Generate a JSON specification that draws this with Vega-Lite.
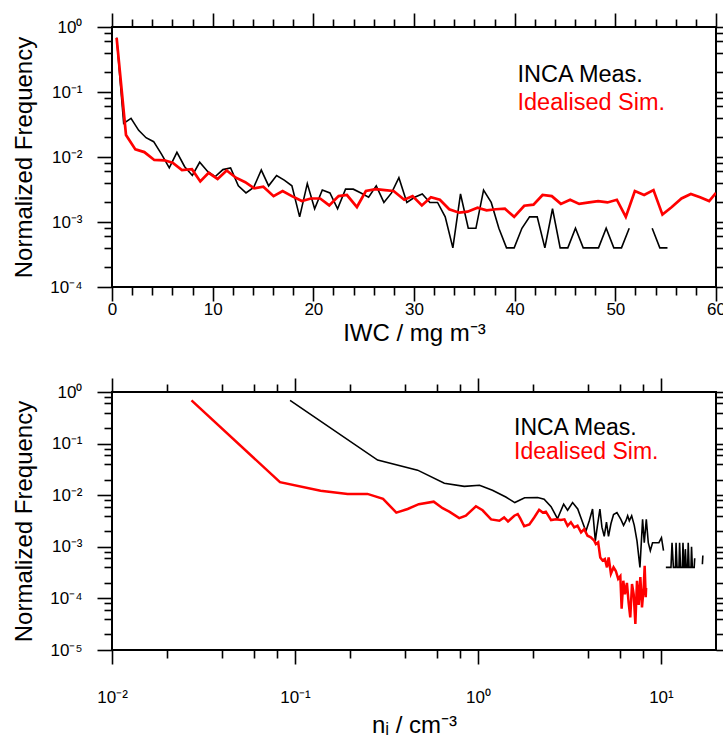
{
  "$schema": "https://vega.github.io/schema/vega-lite/v6.json",
  "background": "white",
  "padding": {"left": 11, "top": 11, "right": 0, "bottom": 0},
  "config": {
    "view": {"stroke": "black", "strokeWidth": 2},
    "font": "Liberation Sans",
    "axis": {
      "domain": false, "grid": false, "tickColor": "black", "tickWidth": 1.6,
      "labelColor": "black", "titleColor": "black", "labelFontSize": 17, "titleFontSize": 24,
      "titleFontWeight": "normal", "labelPadding": 15, "titlePadding": 13,
      "labelFont": "Liberation Sans", "titleFont": "Liberation Sans", "labelOverlap": false, "labelFlush": false
    },
    "legend": {"labelFont": "Liberation Sans"}
  },
  "datasets": {
    "topBlack": [
      {"x":0.46,"y":0.685},{"x":1.16,"y":0.033},{"x":1.89,"y":0.0394},{"x":2.65,"y":0.0257},{"x":3.38,"y":0.0198},
      {"x":4.14,"y":0.0172},{"x":4.93,"y":0.011},{"x":5.69,"y":0.0068},{"x":6.45,"y":0.0118},{"x":7.22,"y":0.0071},
      {"x":7.98,"y":0.0052},{"x":8.71,"y":0.0083},{"x":9.5,"y":0.006},{"x":10.26,"y":0.005},{"x":11.02,"y":0.0064},
      {"x":11.78,"y":0.0068},{"x":12.55,"y":0.0036},{"x":13.31,"y":0.0028},{"x":14.07,"y":0.0034},{"x":14.83,"y":0.0063},
      {"x":15.56,"y":0.0036},{"x":16.35,"y":0.0052},{"x":17.11,"y":0.0044},{"x":17.87,"y":0.0036},{"x":18.64,"y":0.0012},
      {"x":19.4,"y":0.0039},{"x":20.13,"y":0.0016},{"x":20.89,"y":0.0031},{"x":21.65,"y":0.0028},{"x":22.41,"y":0.0016},
      {"x":23.2,"y":0.0032},{"x":23.97,"y":0.0032},{"x":24.73,"y":0.0028},{"x":25.49,"y":0.0024},{"x":26.25,"y":0.0036},
      {"x":27.01,"y":0.002},{"x":27.77,"y":0.0028},{"x":28.5,"y":0.0048},{"x":29.29,"y":0.002},{"x":30.06,"y":0.0024},
      {"x":30.82,"y":0.0027},{"x":31.58,"y":0.002},{"x":32.34,"y":0.002},{"x":33.1,"y":0.0012},{"x":33.86,"y":0.0004},
      {"x":34.62,"y":0.0027},{"x":35.39,"y":0.0008},{"x":36.15,"y":0.0008},{"x":36.91,"y":0.0031},{"x":37.67,"y":0.002},
      {"x":38.43,"y":0.0008},{"x":39.19,"y":0.0004},{"x":39.95,"y":0.0004},{"x":40.72,"y":0.0008},{"x":41.48,"y":0.0012},
      {"x":42.24,"y":0.0012},{"x":43.0,"y":0.0004},{"x":43.76,"y":0.0016},{"x":44.52,"y":0.0004},{"x":45.28,"y":0.0004},
      {"x":46.04,"y":0.0008},{"x":46.81,"y":0.0004},{"x":47.57,"y":0.0004},{"x":48.33,"y":0.0004},{"x":49.09,"y":0.0008},
      {"x":49.85,"y":0.0004},{"x":50.61,"y":0.0004},{"x":51.38,"y":0.0008},{"x":52.14,"y":null},{"x":52.9,"y":null},
      {"x":53.66,"y":0.0008},{"x":54.42,"y":0.0004},{"x":55.18,"y":0.0004}
    ],
    "topRed": [
      {"x":0.46,"y":0.68},{"x":1.39,"y":0.0218},{"x":2.32,"y":0.0131},{"x":3.21,"y":0.0119},{"x":4.2,"y":0.009},
      {"x":5.2,"y":0.0089},{"x":6.02,"y":0.0082},{"x":6.95,"y":0.0063},{"x":7.94,"y":0.0065},{"x":8.77,"y":0.0042},
      {"x":9.6,"y":0.0057},{"x":10.49,"y":0.0046},{"x":11.39,"y":0.0062},{"x":12.31,"y":0.0048},{"x":13.24,"y":0.0041},
      {"x":14.13,"y":0.0033},{"x":15.03,"y":0.0035},{"x":16.05,"y":0.0025},{"x":16.95,"y":0.003},{"x":17.87,"y":0.0025},
      {"x":18.86,"y":0.0021},{"x":19.76,"y":0.0023},{"x":20.68,"y":0.0023},{"x":21.58,"y":0.0018},{"x":22.51,"y":0.0025},
      {"x":23.34,"y":0.0026},{"x":24.33,"y":0.0017},{"x":25.22,"y":0.003},{"x":26.22,"y":0.0032},{"x":27.11,"y":0.0031},
      {"x":27.97,"y":0.003},{"x":29.03,"y":0.0022},{"x":29.86,"y":0.0025},{"x":30.78,"y":0.0018},{"x":31.68,"y":0.0024},
      {"x":32.57,"y":0.0022},{"x":33.5,"y":0.00157},{"x":34.49,"y":0.00139},{"x":35.32,"y":0.00144},{"x":36.31,"y":0.00166},
      {"x":37.21,"y":0.00151},{"x":38.13,"y":0.00157},{"x":39.03,"y":0.0016},{"x":39.95,"y":0.0012},{"x":40.95,"y":0.00178},
      {"x":41.87,"y":0.00185},{"x":42.77,"y":0.0026},{"x":43.69,"y":0.0025},{"x":44.59,"y":0.0019},{"x":45.51,"y":0.0022},
      {"x":46.41,"y":0.0019},{"x":47.4,"y":0.002},{"x":48.29,"y":0.0021},{"x":49.22,"y":0.002},{"x":50.15,"y":0.0022},
      {"x":51.04,"y":0.0012},{"x":51.94,"y":0.003},{"x":52.86,"y":0.0026},{"x":53.79,"y":0.0031},{"x":54.68,"y":0.0013},
      {"x":55.61,"y":0.0017},{"x":56.57,"y":0.0023},{"x":57.5,"y":0.0027},{"x":58.42,"y":0.0024},{"x":59.32,"y":0.0021},
      {"x":60.0,"y":0.0028}
    ],
    "botBlack": [
      {"x":0.094,"y":0.69},{"x":0.283,"y":0.048},{"x":0.468,"y":0.0306},{"x":0.655,"y":0.017},{"x":0.842,"y":0.0148},
      {"x":1.02,"y":0.0156},{"x":1.2,"y":0.0125},{"x":1.42,"y":0.0092},{"x":1.59,"y":0.0072},{"x":1.8,"y":0.0089},
      {"x":2.12,"y":0.009},{"x":2.3,"y":0.0084},{"x":2.51,"y":0.006},{"x":2.72,"y":0.0035},{"x":2.94,"y":0.0067},
      {"x":3.09,"y":0.0051},{"x":3.29,"y":0.0072},{"x":3.51,"y":0.0054},{"x":3.73,"y":0.003},{"x":3.89,"y":0.002},
      {"x":4.06,"y":0.0032},{"x":4.23,"y":0.0054},{"x":4.38,"y":0.0013},{"x":4.5,"y":0.0026},{"x":4.64,"y":0.0054},
      {"x":4.76,"y":0.0024},{"x":4.9,"y":0.0016},{"x":5.04,"y":0.003},{"x":5.17,"y":0.0016},{"x":5.33,"y":0.0028},
      {"x":5.51,"y":0.0042},{"x":5.75,"y":0.0046},{"x":6.04,"y":0.0034},{"x":6.25,"y":0.0026},{"x":6.44,"y":0.0032},
      {"x":6.58,"y":0.004},{"x":6.72,"y":0.0032},{"x":6.92,"y":0.004},{"x":7.15,"y":0.0026},{"x":7.4,"y":0.0013},
      {"x":7.68,"y":0.0004},{"x":7.94,"y":0.0034},{"x":8.11,"y":0.0012},{"x":8.32,"y":0.0034},{"x":8.53,"y":0.0012},
      {"x":8.75,"y":0.00084},{"x":9.0,"y":0.0012},{"x":9.39,"y":0.0012},{"x":9.75,"y":0.0012},{"x":10.07,"y":0.0015},
      {"x":10.33,"y":0.00084},{"x":10.48,"y":null},{"x":10.64,"y":0.0004},{"x":11.35,"y":0.0004},{"x":11.5,"y":0.0012},
      {"x":11.7,"y":0.0004},{"x":12.0,"y":0.0004},{"x":12.1,"y":0.0012},{"x":12.25,"y":0.0004},{"x":12.55,"y":0.0004},
      {"x":12.65,"y":0.0012},{"x":12.8,"y":0.0004},{"x":13.1,"y":0.0004},{"x":13.2,"y":0.0012},{"x":13.35,"y":0.0004},
      {"x":13.5,"y":0.0004},{"x":13.6,"y":0.0009},{"x":13.75,"y":0.0004},{"x":14.0,"y":0.0004},{"x":14.1,"y":0.0012},
      {"x":14.25,"y":0.0004},{"x":14.6,"y":0.0004},{"x":14.7,"y":0.001},{"x":14.85,"y":0.0004},{"x":15.2,"y":0.0004},
      {"x":15.3,"y":0.0006},{"x":15.4,"y":null},{"x":16.85,"y":0.00046},{"x":16.95,"y":0.00068}
    ],
    "botRed": [
      {"x":0.0272,"y":0.69},{"x":0.0828,"y":0.0179},{"x":0.138,"y":0.0122},{"x":0.194,"y":0.0106},{"x":0.249,"y":0.0106},
      {"x":0.303,"y":0.0085},{"x":0.358,"y":0.0046},{"x":0.413,"y":0.0054},{"x":0.475,"y":0.0067},{"x":0.573,"y":0.0075},
      {"x":0.641,"y":0.0056},{"x":0.697,"y":0.0048},{"x":0.79,"y":0.0036},{"x":0.859,"y":0.004},{"x":0.975,"y":0.0061},
      {"x":1.06,"y":0.0051},{"x":1.18,"y":0.0034},{"x":1.31,"y":0.0032},{"x":1.39,"y":0.0037},{"x":1.46,"y":0.0031},
      {"x":1.58,"y":0.004},{"x":1.65,"y":0.0043},{"x":1.7,"y":0.0036},{"x":1.79,"y":0.0025},{"x":1.91,"y":0.0027},
      {"x":2.03,"y":0.0037},{"x":2.16,"y":0.0052},{"x":2.26,"y":0.0046},{"x":2.35,"y":0.0048},{"x":2.51,"y":0.0033},
      {"x":2.67,"y":0.0034},{"x":2.84,"y":0.0033},{"x":2.97,"y":0.0034},{"x":3.09,"y":0.00256},{"x":3.22,"y":0.003},
      {"x":3.36,"y":0.00238},{"x":3.5,"y":0.00256},{"x":3.66,"y":0.0019},{"x":3.81,"y":0.0022},{"x":3.97,"y":0.00164},
      {"x":4.14,"y":0.00153},{"x":4.32,"y":0.00131},{"x":4.41,"y":0.00113},{"x":4.54,"y":0.00122},{"x":4.66,"y":0.00062},
      {"x":4.8,"y":0.00054},{"x":4.94,"y":0.00058},{"x":5.07,"y":0.0004},{"x":5.18,"y":0.00062},{"x":5.33,"y":0.0003},
      {"x":5.51,"y":0.0004},{"x":5.67,"y":0.00034},{"x":5.84,"y":0.00024},{"x":6.0,"y":0.00027},{"x":6.1,"y":0.000063},
      {"x":6.23,"y":0.00022},{"x":6.36,"y":0.00012},{"x":6.52,"y":0.0002},{"x":6.66,"y":0.000083},{"x":6.8,"y":0.000043},
      {"x":6.95,"y":0.00019},{"x":7.1,"y":0.00012},{"x":7.25,"y":0.000032},{"x":7.4,"y":0.00022},{"x":7.56,"y":0.000075},
      {"x":7.72,"y":0.00026},{"x":7.88,"y":0.000067},{"x":8.05,"y":0.00016},{"x":8.15,"y":0.00043},{"x":8.26,"y":0.000105},
      {"x":8.3,"y":0.00016}
    ]
  },
  "bounds": "flush",
  "spacing": 105,
  "resolve": {"scale": {"color": "independent"}, "legend": {"color": "independent"}},
  "vconcat": [
    {
      "width": 604, "height": 260,
      "resolve": {"axis": {"x": "independent", "y": "independent"}},
      "layer": [
        {
          "data": {"name": "topBlack"},
          "mark": {"type": "line", "strokeWidth": 1.6, "clip": true, "invalid": "break-paths-filter-domains"},
          "encoding": {
            "x": {"field": "x", "type": "quantitative",
              "scale": {"domain": [0, 60], "nice": false, "zero": false},
              "axis": {"orient": "bottom", "title": "IWC / mg m⁻³", "values": [0,10,20,30,40,50,60],
                "tickSize": 14, "labelPadding": 0, "titlePadding": 4}},
            "y": {"field": "y", "type": "quantitative",
              "scale": {"type": "log", "domain": [0.0001, 1], "nice": false},
              "axis": {"orient": "left", "title": "Normalized Frequency", "values": [0.0001,0.001,0.01,0.1,1],
                "labelExpr": "'10' + {'0':'⁰','1':'¹','-1':'⁻¹','-2':'⁻²','-3':'⁻³','-4':'⁻⁴','-5':'⁻⁵'}['' + round(log(datum.value)/LN10)]",
                "tickSize": 15}},
            "color": {"datum": "INCA Meas.", "type": "nominal",
              "scale": {"domain": ["INCA Meas.", "Idealised Sim."], "range": ["black", "red"]},
              "legend": {"orient": "none", "legendX": 382, "legendY": 36, "title": null,
                "labelFontSize": 23.5, "symbolSize": 0, "symbolOpacity": 0, "symbolStrokeWidth": 0,
                "labelOffset": 0, "rowPadding": 3, "padding": 0,
                "encode": {"labels": {"update": {"fill": {"signal": "datum.value === 'INCA Meas.' ? 'black' : 'red'"}}}}}}
          }
        },
        {
          "data": {"name": "topBlack"},
          "mark": {"type": "line", "opacity": 0, "clip": true, "invalid": "break-paths-filter-domains"},
          "encoding": {
            "x": {"field": "x", "type": "quantitative",
              "scale": {"domain": [0, 60], "nice": false, "zero": false},
              "axis": {"orient": "bottom", "title": null, "labels": false, "tickSize": 8,
                "values": [2,4,6,8,12,14,16,18,22,24,26,28,32,34,36,38,42,44,46,48,52,54,56,58]}},
            "y": {"field": "y", "type": "quantitative",
              "scale": {"type": "log", "domain": [0.0001, 1], "nice": false},
              "axis": {"orient": "left", "title": null, "labels": false, "tickSize": 8,
                "values": [0.0002,0.0004,0.0006,0.0008,0.002,0.004,0.006,0.008,0.02,0.04,0.06,0.08,0.2,0.4,0.6,0.8]}}
          }
        },
        {
          "data": {"name": "topBlack"},
          "mark": {"type": "line", "opacity": 0, "clip": true, "invalid": "break-paths-filter-domains"},
          "encoding": {
            "x": {"field": "x", "type": "quantitative",
              "scale": {"domain": [0, 60], "nice": false, "zero": false},
              "axis": {"orient": "top", "title": null, "labels": false, "tickSize": 14, "values": [0,10,20,30,40,50,60]}},
            "y": {"field": "y", "type": "quantitative",
              "scale": {"type": "log", "domain": [0.0001, 1], "nice": false},
              "axis": {"orient": "right", "title": null, "labels": false, "tickSize": 15, "values": [0.0001,0.001,0.01,0.1,1]}}
          }
        },
        {
          "data": {"name": "topBlack"},
          "mark": {"type": "line", "opacity": 0, "clip": true, "invalid": "break-paths-filter-domains"},
          "encoding": {
            "x": {"field": "x", "type": "quantitative",
              "scale": {"domain": [0, 60], "nice": false, "zero": false},
              "axis": {"orient": "top", "title": null, "labels": false, "tickSize": 8,
                "values": [2,4,6,8,12,14,16,18,22,24,26,28,32,34,36,38,42,44,46,48,52,54,56,58]}},
            "y": {"field": "y", "type": "quantitative",
              "scale": {"type": "log", "domain": [0.0001, 1], "nice": false},
              "axis": {"orient": "right", "title": null, "labels": false, "tickSize": 8,
                "values": [0.0002,0.0004,0.0006,0.0008,0.002,0.004,0.006,0.008,0.02,0.04,0.06,0.08,0.2,0.4,0.6,0.8]}}
          }
        },
        {
          "data": {"name": "topRed"},
          "mark": {"type": "line", "strokeWidth": 2.7, "clip": true, "invalid": "break-paths-filter-domains"},
          "encoding": {
            "x": {"field": "x", "type": "quantitative", "scale": {"domain": [0, 60], "nice": false, "zero": false}, "axis": null},
            "y": {"field": "y", "type": "quantitative", "scale": {"type": "log", "domain": [0.0001, 1], "nice": false}, "axis": null},
            "color": {"datum": "Idealised Sim.", "type": "nominal"}
          }
        }
      ]
    },
    {
      "width": 604, "height": 258,
      "resolve": {"axis": {"x": "independent", "y": "independent"}},
      "layer": [
        {
          "data": {"name": "botBlack"},
          "mark": {"type": "line", "strokeWidth": 1.6, "clip": true, "invalid": "break-paths-filter-domains"},
          "encoding": {
            "x": {"field": "x", "type": "quantitative",
              "scale": {"type": "log", "domain": [0.01, 20], "nice": false},
              "axis": {"orient": "bottom", "title": "nᵢ / cm⁻³", "values": [0.01,0.1,1,10],
                "labelExpr": "'10' + {'0':'⁰','1':'¹','-1':'⁻¹','-2':'⁻²','-3':'⁻³','-4':'⁻⁴','-5':'⁻⁵'}['' + round(log(datum.value)/LN10)]",
                "tickSize": 14, "labelPadding": 25, "titlePadding": 8}},
            "y": {"field": "y", "type": "quantitative",
              "scale": {"type": "log", "domain": [0.00001, 1], "nice": false},
              "axis": {"orient": "left", "title": "Normalized Frequency", "values": [0.00001,0.0001,0.001,0.01,0.1,1],
                "labelExpr": "'10' + {'0':'⁰','1':'¹','-1':'⁻¹','-2':'⁻²','-3':'⁻³','-4':'⁻⁴','-5':'⁻⁵'}['' + round(log(datum.value)/LN10)]",
                "tickSize": 15}},
            "color": {"datum": "INCA Meas.", "type": "nominal",
              "scale": {"domain": ["INCA Meas.", "Idealised Sim."], "range": ["black", "red"]},
              "legend": {"orient": "none", "legendX": 379, "legendY": 24, "title": null,
                "labelFontSize": 23, "symbolSize": 0, "symbolOpacity": 0, "symbolStrokeWidth": 0,
                "labelOffset": 0, "rowPadding": -1.5, "padding": 0,
                "encode": {"labels": {"update": {"fill": {"signal": "datum.value === 'INCA Meas.' ? 'black' : 'red'"}}}}}}
          }
        },
        {
          "data": {"name": "botBlack"},
          "mark": {"type": "line", "opacity": 0, "clip": true, "invalid": "break-paths-filter-domains"},
          "encoding": {
            "x": {"field": "x", "type": "quantitative",
              "scale": {"type": "log", "domain": [0.01, 20], "nice": false},
              "axis": {"orient": "bottom", "title": null, "labels": false, "tickSize": 8,
                "values": [0.02,0.04,0.06,0.08,0.2,0.4,0.6,0.8,2,4,6,8]}},
            "y": {"field": "y", "type": "quantitative",
              "scale": {"type": "log", "domain": [0.00001, 1], "nice": false},
              "axis": {"orient": "left", "title": null, "labels": false, "tickSize": 8,
                "values": [0.00002,0.00004,0.00006,0.00008,0.0002,0.0004,0.0006,0.0008,0.002,0.004,0.006,0.008,0.02,0.04,0.06,0.08,0.2,0.4,0.6,0.8]}}
          }
        },
        {
          "data": {"name": "botBlack"},
          "mark": {"type": "line", "opacity": 0, "clip": true, "invalid": "break-paths-filter-domains"},
          "encoding": {
            "x": {"field": "x", "type": "quantitative",
              "scale": {"type": "log", "domain": [0.01, 20], "nice": false},
              "axis": {"orient": "top", "title": null, "labels": false, "tickSize": 14, "values": [0.01,0.1,1,10]}},
            "y": {"field": "y", "type": "quantitative",
              "scale": {"type": "log", "domain": [0.00001, 1], "nice": false},
              "axis": {"orient": "right", "title": null, "labels": false, "tickSize": 15, "values": [0.00001,0.0001,0.001,0.01,0.1,1]}}
          }
        },
        {
          "data": {"name": "botBlack"},
          "mark": {"type": "line", "opacity": 0, "clip": true, "invalid": "break-paths-filter-domains"},
          "encoding": {
            "x": {"field": "x", "type": "quantitative",
              "scale": {"type": "log", "domain": [0.01, 20], "nice": false},
              "axis": {"orient": "top", "title": null, "labels": false, "tickSize": 8,
                "values": [0.02,0.04,0.06,0.08,0.2,0.4,0.6,0.8,2,4,6,8]}},
            "y": {"field": "y", "type": "quantitative",
              "scale": {"type": "log", "domain": [0.00001, 1], "nice": false},
              "axis": {"orient": "right", "title": null, "labels": false, "tickSize": 8,
                "values": [0.00002,0.00004,0.00006,0.00008,0.0002,0.0004,0.0006,0.0008,0.002,0.004,0.006,0.008,0.02,0.04,0.06,0.08,0.2,0.4,0.6,0.8]}}
          }
        },
        {
          "data": {"name": "botRed"},
          "mark": {"type": "line", "strokeWidth": 2.5, "clip": true, "invalid": "break-paths-filter-domains"},
          "encoding": {
            "x": {"field": "x", "type": "quantitative", "scale": {"type": "log", "domain": [0.01, 20], "nice": false}, "axis": null},
            "y": {"field": "y", "type": "quantitative", "scale": {"type": "log", "domain": [0.00001, 1], "nice": false}, "axis": null},
            "color": {"datum": "Idealised Sim.", "type": "nominal"}
          }
        }
      ]
    }
  ]
}
